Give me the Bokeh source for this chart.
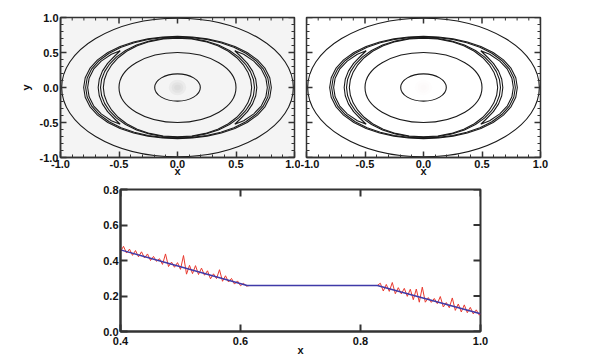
import numpy as np
from bokeh.plotting import figure
from bokeh.models import FixedTicker, Range1d, ColumnDataSource
from bokeh.layouts import column, row
from bokeh.embed import file_html
from bokeh.resources import INLINE

# ---------------- data ----------------
contour_ticks = [-1.0, -0.5, 0.0, 0.5, 1.0]
contour_tick_labels = ["-1.0", "-0.5", "0.0", "0.5", "1.0"]
contour_minor_ticks = [-0.9, -0.8, -0.7, -0.6, -0.4, -0.3, -0.2, -0.1,
                       0.1, 0.2, 0.3, 0.4, 0.6, 0.7, 0.8, 0.9]

# circular contour levels (radius)
circle_radii = [0.99, 0.50, 0.195]

# ring contours, radius at polar angle (deg) in first quadrant (mirrored)
ring_theta = [0, 10, 20, 30, 40, 50, 60, 70, 80, 90]
ring1_r = [0.802, 0.801, 0.797, 0.789, 0.777, 0.763, 0.750, 0.739, 0.732, 0.730]
ring2_r = [0.785, 0.784, 0.780, 0.772, 0.762, 0.750, 0.739, 0.730, 0.724, 0.722]
ring3_r = [0.658, 0.659, 0.663, 0.670, 0.680, 0.691, 0.700, 0.707, 0.711, 0.713]
ring4_r = [0.634, 0.635, 0.640, 0.649, 0.662, 0.676, 0.689, 0.698, 0.704, 0.706]

# closed crescent contours on both sides
cres_theta = [0, 10, 20, 30, 40, 47]
cres_outer_r = [0.768, 0.767, 0.763, 0.753, 0.738, 0.718]
cres_inner_r = [0.678, 0.679, 0.683, 0.690, 0.700, 0.718]

# central peak shading (size of blob layers)
blob_w = [0.15, 0.10, 0.055]
blob_h = [0.22, 0.15, 0.08]

# profile plot
profile_x_ticks = [0.4, 0.6, 0.8, 1.0]
profile_x_labels = ["0.4", "0.6", "0.8", "1.0"]
profile_y_ticks = [0.0, 0.2, 0.4, 0.6, 0.8]
profile_y_labels = ["0.0", "0.2", "0.4", "0.6", "0.8"]

exact_x = [0.400, 0.611, 0.828, 1.000]
exact_y = [0.460, 0.259, 0.259, 0.100]

numeric_x_left = [0.400, 0.405, 0.410, 0.415, 0.420, 0.425, 0.430, 0.435, 0.440, 0.445,
                  0.450, 0.455, 0.460, 0.465, 0.470, 0.475, 0.480, 0.485, 0.490, 0.495,
                  0.500, 0.505, 0.510, 0.515, 0.520, 0.525, 0.530, 0.535, 0.540, 0.545,
                  0.550, 0.555, 0.560, 0.565, 0.570, 0.575, 0.580, 0.585, 0.590, 0.595,
                  0.600, 0.605, 0.610, 0.615]
numeric_y_left = [0.450, 0.480, 0.442, 0.464, 0.429, 0.456, 0.421, 0.449, 0.414, 0.437,
                  0.400, 0.423, 0.395, 0.410, 0.378, 0.437, 0.366, 0.391, 0.362, 0.388,
                  0.350, 0.428, 0.323, 0.373, 0.326, 0.371, 0.321, 0.357, 0.317, 0.342,
                  0.297, 0.325, 0.298, 0.348, 0.283, 0.314, 0.279, 0.299, 0.267, 0.285,
                  0.258, 0.271, 0.256, 0.259]
numeric_x_right = [0.828, 0.833, 0.838, 0.843, 0.848, 0.853, 0.858, 0.863, 0.868, 0.873,
                   0.878, 0.883, 0.888, 0.893, 0.898, 0.903, 0.908, 0.913, 0.918, 0.923,
                   0.928, 0.933, 0.938, 0.943, 0.948, 0.953, 0.958, 0.963, 0.968, 0.973,
                   0.978, 0.983, 0.988, 0.993, 0.998, 1.000]
numeric_y_right = [0.259, 0.272, 0.228, 0.265, 0.226, 0.276, 0.213, 0.247, 0.212, 0.243,
                   0.198, 0.238, 0.179, 0.239, 0.165, 0.250, 0.165, 0.191, 0.164, 0.186,
                   0.157, 0.197, 0.138, 0.163, 0.134, 0.189, 0.119, 0.155, 0.110, 0.150,
                   0.106, 0.136, 0.099, 0.122, 0.092, 0.100]

# ---------------- styling helpers ----------------
FONT = "Liberation Sans"
AX = "#333333"
LINE = "#1a1a1a"


def ring_xy(theta_deg, r):
    q = np.array(theta_deg, float)
    rr = np.array(r, float)
    th = np.concatenate([q, 180 - q[::-1][1:], 180 + q[1:], 360 - q[::-1][1:]])
    rf = np.concatenate([rr, rr[::-1][1:], rr[1:], rr[::-1][1:]])
    t = np.deg2rad(th)
    return list(rf * np.cos(t)), list(rf * np.sin(t))


def crescent_xy(theta_deg, r_out, r_in, side):
    q = np.array(theta_deg, float)
    ro = np.array(r_out, float)
    ri = np.array(r_in, float)
    th_o = np.concatenate([-q[::-1], q[1:]])
    r_o = np.concatenate([ro[::-1], ro[1:]])
    th_i = th_o[::-1]
    r_i = np.concatenate([ri[::-1], ri[1:]])[::-1]
    th = np.deg2rad(np.concatenate([th_o, th_i]))
    r = np.concatenate([r_o, r_i])
    return list(side * r * np.cos(th)), list(r * np.sin(th))


def style_axis(ax, ticks, labels, minor, tick_len, minor_len, lw,
               label_standoff=2, axis_label_standoff=0):
    ax.ticker = FixedTicker(ticks=ticks, minor_ticks=minor)
    ax.major_label_overrides = {float(t): l for t, l in zip(ticks, labels)}
    ax.axis_line_color = AX
    ax.axis_line_width = lw
    ax.major_tick_line_color = AX
    ax.major_tick_line_width = lw
    ax.minor_tick_line_color = AX
    ax.minor_tick_line_width = 1
    ax.major_tick_in = tick_len
    ax.major_tick_out = 0
    ax.minor_tick_in = minor_len
    ax.minor_tick_out = 0
    ax.major_label_text_font = FONT
    ax.major_label_text_font_style = "bold"
    ax.major_label_text_color = "#111111"
    ax.major_label_text_font_size = "11px"
    ax.major_label_standoff = label_standoff
    ax.axis_label_text_font = FONT
    ax.axis_label_text_font_style = "bold"
    ax.axis_label_text_font_size = "11px"
    ax.axis_label_text_color = "#111111"
    ax.axis_label_standoff = axis_label_standoff


def tick_marks(p, ticks, fixed, horizontal_edge, size, lw):
    """Inward tick marks on an edge that has no labelled axis (clipped to frame)."""
    if horizontal_edge:
        p.scatter(x=ticks, y=[fixed] * len(ticks), marker="dash", angle=np.pi / 2,
                  size=2 * size, line_color=AX, line_width=lw)
    else:
        p.scatter(x=[fixed] * len(ticks), y=ticks, marker="dash", angle=0,
                  size=2 * size, line_color=AX, line_width=lw)


def contour_fig(show_y_axis, bg, blob_color, blob_alpha, bl, br, w, bt):
    p = figure(width=w, height=bt + 140 + 24, x_range=Range1d(-1, 1),
               y_range=Range1d(-1, 1),
               output_backend="svg", toolbar_location=None,
               y_axis_location="left" if show_y_axis else None,
               min_border_left=bl, min_border_right=br, min_border_top=bt,
               min_border_bottom=24)
    p.grid.visible = False
    p.background_fill_color = bg
    p.border_fill_color = "white"
    p.outline_line_color = AX
    p.outline_line_width = 1.5
    xa = p.below[0]
    style_axis(xa, contour_ticks, contour_tick_labels, contour_minor_ticks,
               6, 3, 1.5, label_standoff=2, axis_label_standoff=-6)
    xa.axis_label = "x"
    if show_y_axis:
        ya = p.left[0]
        style_axis(ya, contour_ticks, contour_tick_labels, contour_minor_ticks,
                   6, 3, 1.5, label_standoff=2, axis_label_standoff=5)
        ya.axis_label = "y"

    # central shading
    n = len(blob_w)
    p.ellipse(x=[0.0] * n, y=[0.0] * n, width=blob_w, height=blob_h,
              fill_color=blob_color, fill_alpha=blob_alpha, line_color=None)

    # circles
    d = [2 * r for r in circle_radii]
    p.ellipse(x=[0.0] * len(d), y=[0.0] * len(d), width=d, height=d,
              fill_color=None, line_color=LINE, line_width=1.1)

    xs, ys = [], []
    for rr in (ring1_r, ring2_r, ring3_r, ring4_r):
        x, y = ring_xy(ring_theta, rr)
        xs.append(x)
        ys.append(y)
    for side in (1, -1):
        x, y = crescent_xy(cres_theta, cres_outer_r, cres_inner_r, side)
        xs.append(x)
        ys.append(y)
    p.multi_line(xs=xs, ys=ys, line_color=LINE, line_width=1.1)

    # mirrored ticks on top / right (and left for the unlabeled panel)
    tick_marks(p, contour_ticks, 1.0, True, 6, 1.5)
    tick_marks(p, contour_minor_ticks, 1.0, True, 3, 1)
    tick_marks(p, contour_ticks, 1.0, False, 6, 1.5)
    tick_marks(p, contour_minor_ticks, 1.0, False, 3, 1)
    if not show_y_axis:
        tick_marks(p, contour_ticks, -1.0, False, 6, 1.5)
        tick_marks(p, contour_minor_ticks, -1.0, False, 3, 1)
    return p


p1 = contour_fig(True, "#f4f4f4", "#808080", 0.07, 60, 6, 300, 17)
p2 = contour_fig(False, "#ffffff", "#e08080", 0.02, 6, 10, 250, 17)

# ---------------- profile plot ----------------
p3 = figure(width=500, height=8 + 143 + 26, x_range=Range1d(0.4, 1.0),
            y_range=Range1d(0.0, 0.8),
            output_backend="svg", toolbar_location=None,
            min_border_left=120, min_border_right=20, min_border_top=8,
            min_border_bottom=26)
p3.grid.visible = False
p3.outline_line_color = AX
p3.outline_line_width = 2
p3.background_fill_color = "white"
style_axis(p3.below[0], profile_x_ticks, profile_x_labels, [], 7, 0, 2,
           label_standoff=5, axis_label_standoff=-4)
p3.below[0].axis_label = "x"
style_axis(p3.left[0], profile_y_ticks, profile_y_labels, [], 7, 0, 2,
           label_standoff=2)

num_src = ColumnDataSource(dict(x=numeric_x_left + numeric_x_right,
                                y=numeric_y_left + numeric_y_right))
p3.line("x", "y", source=num_src, line_color="#e8392e", line_width=1)
p3.line(exact_x, exact_y, line_color="#3f3aa8", line_width=1.5)
tick_marks(p3, profile_x_ticks, 0.8, True, 7, 2)
tick_marks(p3, profile_y_ticks, 1.0, False, 7, 2)

layout = column(row(p1, p2), p3)
open("out.html", "w").write(file_html(layout, INLINE))
